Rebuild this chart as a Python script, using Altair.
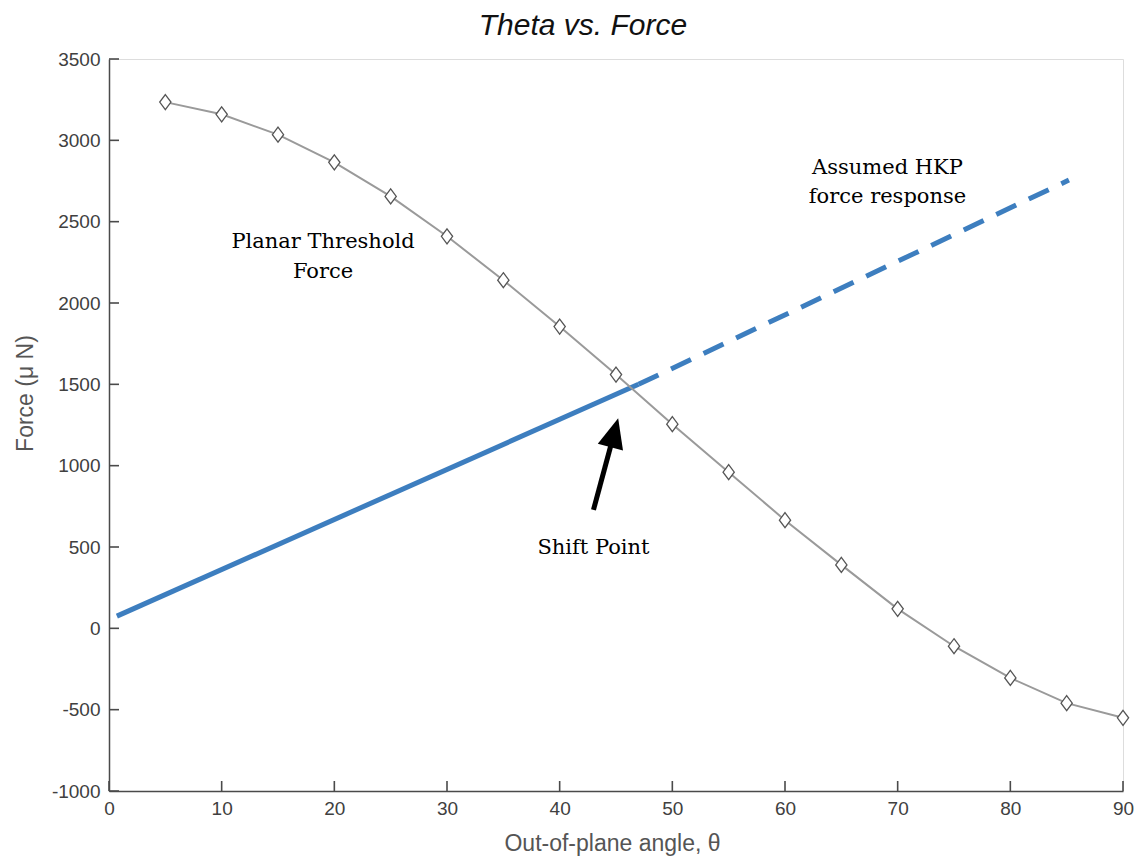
import altair as alt
import pandas as pd
import numpy as np

# ---- data ----
theta = [5, 10, 15, 20, 25, 30, 35, 40, 45, 50, 55, 60, 65, 70, 75, 80, 85, 90]
force = [3235, 3160, 3035, 2865, 2655, 2410, 2140, 1855, 1560, 1255, 960, 665, 390, 120,
         -110, -305, -460, -550]

hkp_solid_x = [0.7, 47.0]
hkp_solid_y = [75, 1500]
hkp_dash_x = [47.0, 85.2]
hkp_dash_y = [1500, 2756]

x_ticks = list(range(0, 91, 10))
y_ticks = list(range(-1000, 3501, 500))

ann_text = ["Planar Threshold", "Force", "Assumed HKP", "force response", "Shift Point"]
ann_x = [19.0, 19.0, 69.1, 69.1, 43.0]
ann_y = [2375, 2191, 2830, 2652, 494]

arrow_tail = [43.0, 728]
arrow_tip = [45.2, 1293]

chart_title = ["Theta vs. Force"]

# ---- layout ----
W, H = 1014, 732
TICK_LEN = 10
AXIS_COL = "#4a4a4a"
LABEL_COL = "#404040"
BLUE = "#3d7ebf"

XDOM = [0, 90]
YDOM = [-1000, 3500]
xscale = alt.Scale(domain=XDOM, nice=False, zero=False)
yscale = alt.Scale(domain=YDOM, nice=False, zero=False)

xaxis = alt.Axis(values=x_ticks, grid=False, ticks=False, tickSize=0, domainColor=AXIS_COL,
                 domainWidth=1.5, labelFont="Liberation Sans", labelFontSize=19,
                 labelColor=LABEL_COL, labelPadding=8, labelFlush=False,
                 labelExpr="'' + datum.value",
                 title="Out-of-plane angle, θ", titleFont="Liberation Sans",
                 titleFontSize=23, titleFontWeight="normal", titleColor="#555555",
                 titleX=503, titleY=52, titleAlign="center", titleBaseline="middle")
yaxis = alt.Axis(values=y_ticks, grid=False, ticks=False, tickSize=0, domainColor=AXIS_COL,
                 domainWidth=1.5, labelFont="Liberation Sans", labelFontSize=19,
                 labelColor=LABEL_COL, labelPadding=9, labelFlush=False,
                 labelExpr="'' + datum.value",
                 title="Force (μ N)", titleFont="Liberation Sans",
                 titleFontSize=23, titleFontWeight="normal", titleColor="#555555",
                 titleX=-84, titleY=334, titleAlign="center", titleBaseline="middle",
                 titleAngle=270)

X = lambda f: alt.X(f, type="quantitative", scale=xscale, axis=xaxis)
Y = lambda f: alt.Y(f, type="quantitative", scale=yscale, axis=yaxis)

planar = pd.DataFrame({"x": theta, "y": force})
solid = pd.DataFrame({"x": hkp_solid_x, "y": hkp_solid_y})
dash = pd.DataFrame({"x": hkp_dash_x, "y": hkp_dash_y})
ann = pd.DataFrame({"x": ann_x, "y": ann_y, "t": ann_text})

tail = np.array(arrow_tail, dtype=float)
tip = np.array(arrow_tip, dtype=float)
shaft_end = tail + 0.72 * (tip - tail)
head_c = tail + 0.84 * (tip - tail)
shaft = pd.DataFrame({"x": [tail[0]], "y": [tail[1]], "x2": [shaft_end[0]], "y2": [shaft_end[1]]})
head = pd.DataFrame({"x": [head_c[0]], "y": [head_c[1]]})

# inward tick marks: tick length converted from pixels to data units
ylen = TICK_LEN * (YDOM[1] - YDOM[0]) / H
xlen = TICK_LEN * (XDOM[1] - XDOM[0]) / W
xt = pd.DataFrame({"x": x_ticks, "y": [YDOM[0]] * len(x_ticks),
                   "y2": [YDOM[0] + ylen] * len(x_ticks)})
yt = pd.DataFrame({"y": y_ticks, "x": [XDOM[0]] * len(y_ticks),
                   "x2": [XDOM[0] + xlen] * len(y_ticks)})

tick_x = alt.Chart(xt).mark_rule(color=AXIS_COL, strokeWidth=1.6).encode(
    x=X("x"), y=Y("y"), y2="y2")
tick_y = alt.Chart(yt).mark_rule(color=AXIS_COL, strokeWidth=1.6).encode(
    y=Y("y"), x=X("x"), x2="x2")

blue_solid = alt.Chart(solid).mark_line(color=BLUE, strokeWidth=5, strokeCap="butt").encode(
    x=X("x"), y=Y("y"))
blue_dash = alt.Chart(dash).mark_line(color=BLUE, strokeWidth=5, strokeDash=[22, 14],
                                      strokeCap="butt").encode(x=X("x"), y=Y("y"))

gray_line = alt.Chart(planar).mark_line(color="#9a9a9a", strokeWidth=2).encode(
    x=X("x"), y=Y("y"))
gray_pts = alt.Chart(planar).mark_point(
    shape="M0,-1L0.75,0L0,1L-0.75,0Z", size=225, filled=True, fill="white",
    stroke="#555555", strokeWidth=1.3, opacity=1).encode(x=X("x"), y=Y("y"))

arrow_shaft = alt.Chart(shaft).mark_rule(color="black", strokeWidth=5).encode(
    x=X("x"), y=Y("y"), x2="x2", y2="y2")
arrow_head = alt.Chart(head).mark_point(
    shape="M0,-1L0.87,1L-0.87,1Z", size=900, filled=True, color="black", angle=15,
    opacity=1).encode(x=X("x"), y=Y("y"))

texts = alt.Chart(ann).mark_text(font="DejaVu Serif", fontSize=21, color="#000000",
                                 align="center", baseline="middle").encode(
    x=X("x"), y=Y("y"), text="t:N")

title_mark = alt.Chart(pd.DataFrame({"t": chart_title})).mark_text(
    font="Liberation Sans", fontSize=30, fontStyle="italic", color="#111111",
    align="center", baseline="alphabetic").encode(
    x=alt.value(474), y=alt.value(-24), text="t:N")

chart = alt.layer(
    tick_x, tick_y, blue_solid, blue_dash, gray_line, gray_pts, arrow_shaft, arrow_head,
    texts, title_mark
).properties(
    width=W, height=H,
    autosize=alt.AutoSizeParams(type="none"),
    padding={"left": 109, "top": 59, "right": 18, "bottom": 68},
).configure_view(stroke=None).configure(background="white")

chart.save("out.html", embed_options={"renderer": "svg", "actions": False})
